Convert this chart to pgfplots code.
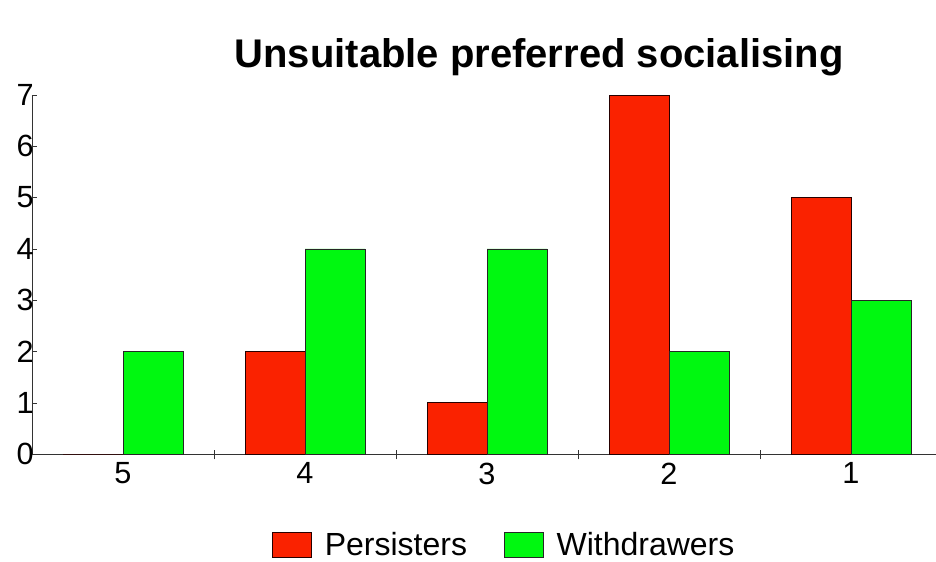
\documentclass[border=0pt]{standalone}
\usepackage{pgfplots}
\pgfplotsset{compat=1.18}
\usepackage{fontspec}
\setmainfont{Liberation Sans}
\definecolor{barred}{RGB}{250,34,0}
\definecolor{bargreen}{RGB}{0,248,16}
\begin{document}
\begin{tikzpicture}
\useasboundingbox (-24pt,-80.25pt) rectangle (678pt,340.5pt);
\begin{axis}[
  at={(0,0)}, anchor=south west,
  scale only axis,
  width=678pt, height=269.25pt,
  ybar=0pt, bar width=45pt,
  xmin=-0.5, xmax=4.467,
  ymin=0, ymax=7,
  axis x line=bottom, axis y line=left,
  axis line style={-, black!80},
  xtick={0,1,2,3,4},
  xticklabels={5,4,3,2,1},
  major x tick style={draw=none},
  minor xtick={0.5,1.5,2.5,3.5},
  minor x tick style={black!80, yshift=-4pt},
  minor tick length=7pt,
  ytick={0,1,2,3,4,5,6,7},
  y tick style={black!80},
  major tick length=4pt,
  tick align=inside,
  /pgf/number format/assume math mode=true,
  tick label style={font=\fontsize{23}{26}\selectfont},
  yticklabel style={inner sep=0.5pt, xshift=2pt},
  xticklabel style={yshift=-3pt},
  title={\textbf{Unsuitable preferred socialising}},
  title style={font=\fontsize{30}{34}\selectfont, at={(0.561,1)}, anchor=base, yshift=15pt},
  legend columns=2,
  legend style={draw=none, at={(0.523,0)}, anchor=center, yshift=-68pt,
    font=\fontsize{24}{27}\selectfont,
    /tikz/every even column/.append style={column sep=26pt}},
  legend image code/.code={\draw[#1] (0pt,-9.4pt) rectangle (29.25pt,9.4pt); \path[draw=none,fill=none] (0pt,0pt) -- (37pt,0pt);},
]
\addplot[fill=barred, draw=black!85!red] coordinates {(0,0) (1,2) (2,1) (3,7) (4,5)};
\addplot[fill=bargreen, draw=black!85] coordinates {(0,2) (1,4) (2,4) (3,2) (4,3)};
\legend{Persisters,Withdrawers}
\end{axis}
\end{tikzpicture}
\end{document}
